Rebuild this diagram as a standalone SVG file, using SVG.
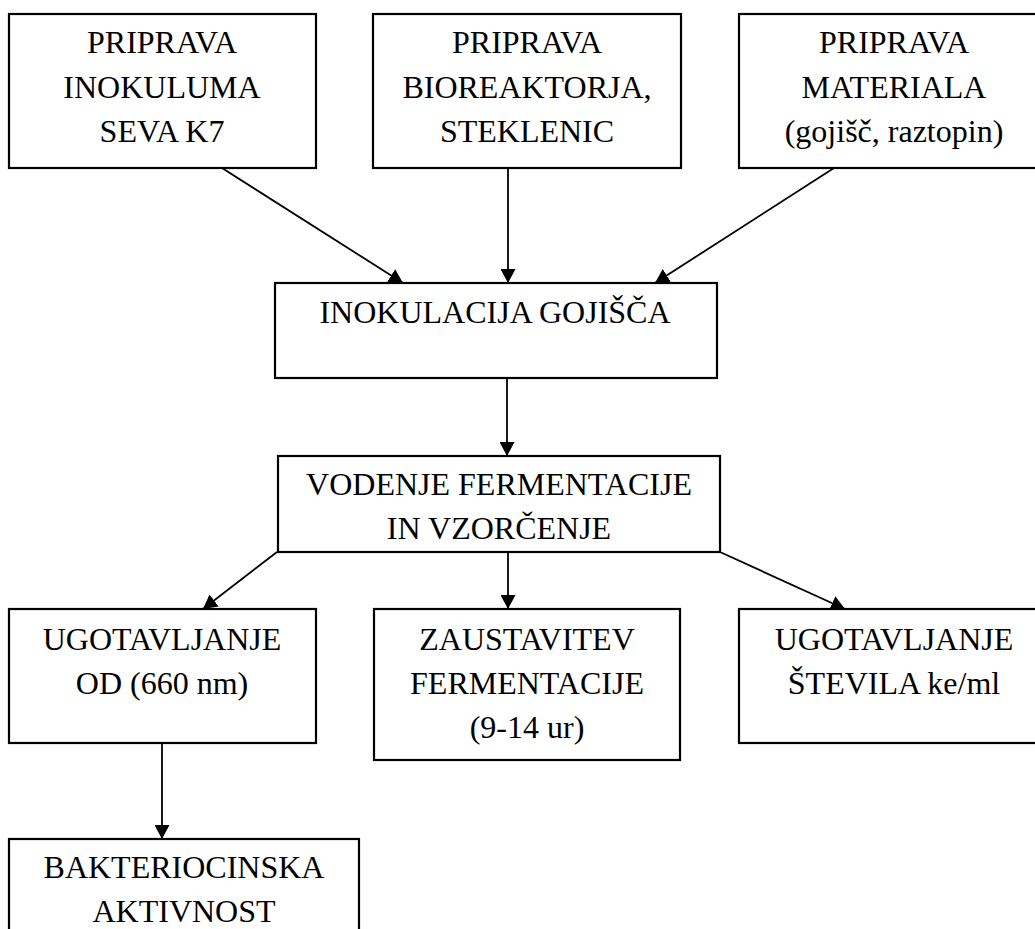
<svg xmlns="http://www.w3.org/2000/svg" width="1035" height="929" viewBox="0 0 1035 929">
<style>
.box{fill:#fff;stroke:#000;stroke-width:2.2}
.t{font-family:'Liberation Serif','Times New Roman',serif;font-size:32px;fill:#000;text-anchor:middle}
.c{stroke:#000;stroke-width:1.8;fill:none}
</style>
<defs>
<marker id="ah" markerUnits="userSpaceOnUse" markerWidth="15" markerHeight="15" refX="14" refY="7.5" orient="auto" viewBox="0 0 15 15">
<path d="M0,0 L14,7.5 L0,15 Z" fill="#000"/>
</marker>
</defs>
<rect width="1035" height="929" fill="#fff"/>
<g id="connectors">
<line class="c" x1="222" y1="168" x2="403" y2="283" marker-end="url(#ah)"/>
<line class="c" x1="508" y1="168" x2="508" y2="283" marker-end="url(#ah)"/>
<line class="c" x1="834" y1="168" x2="655" y2="283" marker-end="url(#ah)"/>
<line class="c" x1="507" y1="378" x2="507" y2="456" marker-end="url(#ah)"/>
<line class="c" x1="277" y1="552" x2="203" y2="609" marker-end="url(#ah)"/>
<line class="c" x1="508" y1="552" x2="508" y2="609" marker-end="url(#ah)"/>
<line class="c" x1="720" y1="552" x2="845" y2="609" marker-end="url(#ah)"/>
<line class="c" x1="162" y1="743" x2="162" y2="839" marker-end="url(#ah)"/>
</g>
<g id="n1">
<rect class="box" x="9" y="14" width="307" height="154"/>
<text class="t" x="162" y="53">PRIPRAVA</text>
<text class="t" x="162" y="97.5">INOKULUMA</text>
<text class="t" x="162" y="142">SEVA K7</text>
</g>
<g id="n2">
<rect class="box" x="373" y="14" width="308" height="154"/>
<text class="t" x="527" y="53">PRIPRAVA</text>
<text class="t" x="527" y="97.5">BIOREAKTORJA,</text>
<text class="t" x="527" y="142">STEKLENIC</text>
</g>
<g id="n3">
<rect class="box" x="739" y="14" width="310" height="154"/>
<text class="t" x="894" y="53">PRIPRAVA</text>
<text class="t" x="894" y="97.5">MATERIALA</text>
<text class="t" x="894" y="142">(gojišč, raztopin)</text>
</g>
<g id="n4">
<rect class="box" x="275" y="283" width="442" height="95"/>
<text class="t" x="495" y="323">INOKULACIJA GOJIŠČA</text>
</g>
<g id="n5">
<rect class="box" x="278" y="456" width="442" height="96"/>
<text class="t" x="499" y="495">VODENJE FERMENTACIJE</text>
<text class="t" x="499" y="539">IN VZORČENJE</text>
</g>
<g id="n6">
<rect class="box" x="9" y="609" width="307" height="134"/>
<text class="t" x="162" y="650">UGOTAVLJANJE</text>
<text class="t" x="162" y="694">OD (660 nm)</text>
</g>
<g id="n7">
<rect class="box" x="374" y="609" width="306" height="151"/>
<text class="t" x="527" y="650">ZAUSTAVITEV</text>
<text class="t" x="527" y="694">FERMENTACIJE</text>
<text class="t" x="527" y="738">(9-14 ur)</text>
</g>
<g id="n8">
<rect class="box" x="739" y="609" width="310" height="134"/>
<text class="t" x="894" y="650">UGOTAVLJANJE</text>
<text class="t" x="894" y="694">ŠTEVILA ke/ml</text>
</g>
<g id="n9">
<rect class="box" x="9" y="839" width="350" height="120"/>
<text class="t" x="184" y="878">BAKTERIOCINSKA</text>
<text class="t" x="184" y="922">AKTIVNOST</text>
</g>
</svg>
